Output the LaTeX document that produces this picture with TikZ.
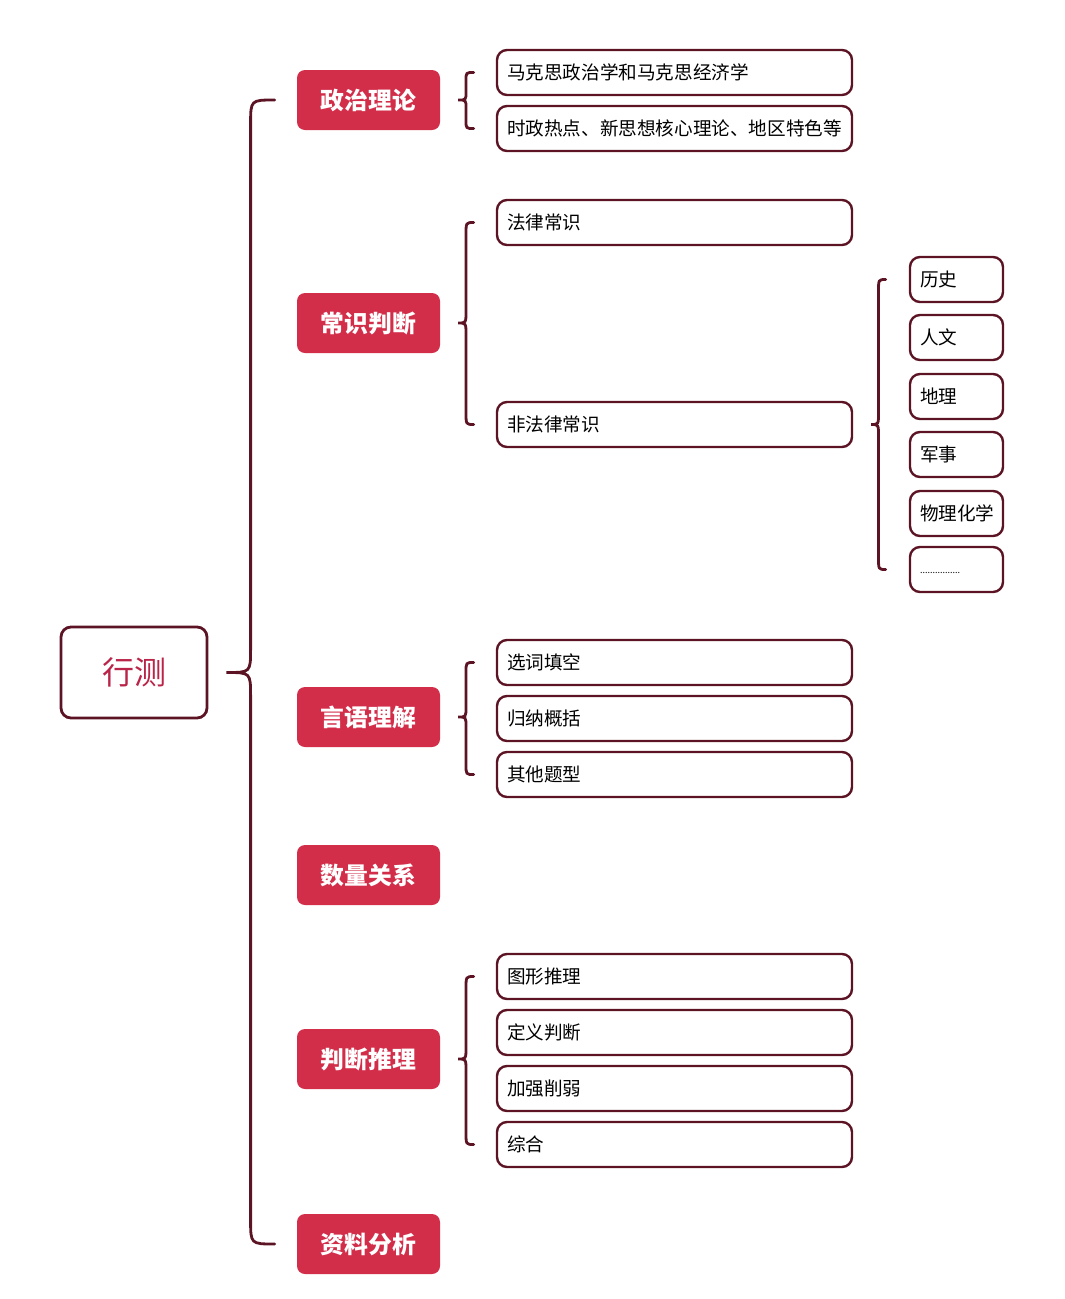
\documentclass[tikz,border=0pt]{standalone}
\usepackage{fontspec}
\setmainfont{Noto Sans CJK SC}
\usetikzlibrary{calc}
\definecolor{catred}{RGB}{210,46,74}
\definecolor{maroon}{RGB}{92,20,36}
\definecolor{roottext}{RGB}{185,36,72}
\tikzset{
 rootbox/.style={draw=maroon, line width=2.8pt, rounded corners=10pt, minimum width=146pt, minimum height=91pt, text=roottext, font=\fontsize{32}{36}\selectfont},
 catbox/.style={fill=catred, rounded corners=8pt, minimum width=143pt, minimum height=60pt, text=white, font=\fontsize{23.8}{28}\selectfont\bfseries},
 leafbox/.style={draw=maroon, line width=2.4pt, rounded corners=10pt, minimum height=45pt, text width=335pt, inner xsep=10pt, align=left, font=\fontsize{18.6}{22}\selectfont},
 subbox/.style={leafbox, text width=73pt},
 bracestyle/.style={draw=maroon, line width=2.8pt, line cap=round},
}
\newcommand\mybrace[4]{% tip, top end, bottom end, radius
 \draw[bracestyle] let \p1=(#1), \p2=(#2), \p3=(#3), \n1={(\x1+\x2)/2} in
  (\p2) .. controls (\n1,\y2) .. (\n1,{\y2-#4}) -- (\n1,{\y1+#4}) .. controls (\n1,\y1) .. (\p1)
  .. controls (\n1,\y1) .. (\n1,{\y1-#4}) -- (\n1,{\y3+#4}) .. controls (\n1,\y3) .. (\p3);
}
\begin{document}
\begin{tikzpicture}[x=1pt,y=-1pt]
\useasboundingbox (0,0) rectangle (1065,1299);
\node[rootbox] (root) at (134,672.5) {行测};
\node[catbox] (c1) at (368.5,100) {政治理论};
\node[catbox] (c2) at (368.5,323) {常识判断};
\node[catbox] (c3) at (368.5,717) {言语理解};
\node[catbox] (c4) at (368.5,875) {数量关系};
\node[catbox] (c5) at (368.5,1059) {判断推理};
\node[catbox] (c6) at (368.5,1244) {资料分析};
\node[leafbox] (l11) at (674.5,72.5) {马克思政治学和马克思经济学};
\node[leafbox] (l12) at (674.5,128.5) {时政热点、新思想核心理论、地区特色等};
\node[leafbox] (l21) at (674.5,222.5) {法律常识};
\node[leafbox] (l22) at (674.5,424.5) {非法律常识};
\node[leafbox] (l31) at (674.5,662.5) {选词填空};
\node[leafbox] (l32) at (674.5,718.5) {归纳概括};
\node[leafbox] (l33) at (674.5,774.5) {其他题型};
\node[leafbox] (l51) at (674.5,976.5) {图形推理};
\node[leafbox] (l52) at (674.5,1032.5) {定义判断};
\node[leafbox] (l53) at (674.5,1088.5) {加强削弱};
\node[leafbox] (l54) at (674.5,1144.5) {综合};
\node[subbox] (s1) at (956.5,279.5) {历史};
\node[subbox] (s2) at (956.5,337.5) {人文};
\node[subbox] (s3) at (956.5,396.5) {地理};
\node[subbox] (s4) at (956.5,454.5) {军事};
\node[subbox] (s5) at (956.5,513.5) {物理化学};
\node[subbox] (s6) at (956.5,569.5) {\raisebox{-8pt}{\fontsize{9}{10}\selectfont ................}};
\mybrace{$(root.east)+(18pt,0)$}{$(c1.west)+(-22pt,0)$}{$(c6.west)+(-22pt,0)$}{24pt}
\mybrace{$(c1.east)+(18pt,0)$}{$(l11.west)+(-22pt,0)$}{$(l12.west)+(-22pt,0)$}{8pt}
\mybrace{$(c2.east)+(18pt,0)$}{$(l21.west)+(-22pt,0)$}{$(l22.west)+(-22pt,0)$}{12pt}
\mybrace{$(c3.east)+(18pt,0)$}{$(l31.west)+(-22pt,0)$}{$(l33.west)+(-22pt,0)$}{10pt}
\mybrace{$(c5.east)+(18pt,0)$}{$(l51.west)+(-22pt,0)$}{$(l54.west)+(-22pt,0)$}{12pt}
\mybrace{$(l22.east)+(18pt,0)$}{$(s1.west)+(-23pt,0)$}{$(s6.west)+(-23pt,0)$}{12pt}
\end{tikzpicture}
\end{document}
